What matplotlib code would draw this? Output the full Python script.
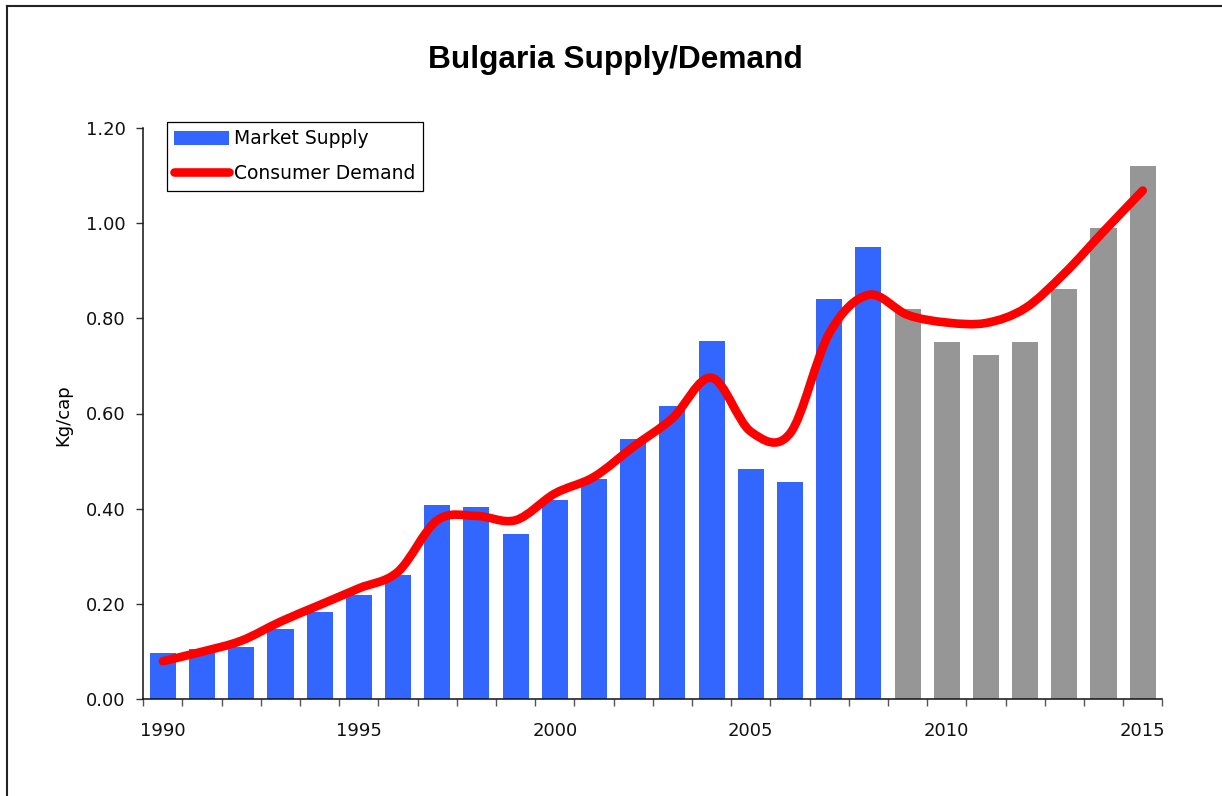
import matplotlib

matplotlib.use("Agg")
import matplotlib.pyplot as plt
import numpy as np
from matplotlib.lines import Line2D
from matplotlib.patches import Patch, PathPatch
from matplotlib.path import Path


YEARS = list(range(1990, 2016))
SUPPLY = [0.097, 0.105, 0.110, 0.148, 0.183, 0.219, 0.260, 0.408, 0.404, 0.347,
          0.418, 0.462, 0.546, 0.615, 0.752, 0.483, 0.456, 0.840, 0.950, 0.819,
          0.750, 0.723, 0.750, 0.861, 0.990, 1.120]
DEMAND = [0.080, 0.100, 0.123, 0.163, 0.198, 0.233, 0.268, 0.376, 0.385, 0.376,
          0.432, 0.467, 0.530, 0.590, 0.675, 0.562, 0.558, 0.768, 0.849, 0.807,
          0.791, 0.790, 0.821, 0.894, 0.982, 1.068]
FORECAST_FROM = 2009
Y_TICKS = [0.0, 0.2, 0.4, 0.6, 0.8, 1.0, 1.2]
LABEL_YEARS = [1990, 1995, 2000, 2005, 2010, 2015]

BLUE = "#3366ff"
GREY = "#969696"
RED = "#ff0000"
FONT = "DejaVu Sans"

W, H = 1222, 796


def smooth_path(xs, ys):
    # Excel-style smoothed line: cubic Bezier with control points at +-(P[i+1]-P[i-1])/6
    pts = np.column_stack([xs, ys]).astype(float)
    padded = np.vstack([pts[0], pts, pts[-1]])
    verts = [pts[0]]
    codes = [Path.MOVETO]
    for i in range(len(pts) - 1):
        p0, p1, p2, p3 = padded[i], padded[i + 1], padded[i + 2], padded[i + 3]
        verts += [p1 + (p2 - p0) / 6, p2 - (p3 - p1) / 6, p2]
        codes += [Path.CURVE4] * 3
    return Path(verts, codes)


fig = plt.figure(figsize=(W / 100, H / 100), dpi=100)
ax = fig.add_axes([143.3 / W, 1 - 699.3 / H, 1019 / W, 571.6 / H])

x = np.arange(len(YEARS))
colors = [BLUE if y < FORECAST_FROM else GREY for y in YEARS]
ax.bar(x, SUPPLY, width=0.665, color=colors, linewidth=0, zorder=2)

line = PathPatch(smooth_path(x, DEMAND), fill=False, edgecolor=RED, linewidth=6.2,
                 capstyle="round", joinstyle="round", zorder=3)
ax.add_patch(line)

ax.set_xlim(-0.5, len(YEARS) - 0.5)
ax.set_ylim(0, 1.2)

ax.set_yticks(Y_TICKS)
ax.set_yticklabels([f"{v:.2f}" for v in Y_TICKS], fontsize=13, family=FONT, color="#111111")
ax.tick_params(axis="y", direction="out", length=4.7, width=1, pad=8, color="#333333")

ax.set_xticks([YEARS.index(y) for y in LABEL_YEARS])
ax.set_xticklabels([str(y) for y in LABEL_YEARS], fontsize=13, family=FONT, color="#111111")
ax.tick_params(axis="x", which="major", length=0, pad=16)
ax.set_xticks(np.arange(len(YEARS) + 1) - 0.5, minor=True)
ax.tick_params(axis="x", which="minor", direction="out", length=5, width=1, color="#555555")

for side in ("top", "right"):
    ax.spines[side].set_visible(False)
for side in ("left", "bottom"):
    ax.spines[side].set_color("#111111")
    ax.spines[side].set_linewidth(1.1)

handles = [
    Patch(facecolor=BLUE, edgecolor="none"),
    Line2D([0], [0], color=RED, linewidth=6.2, solid_capstyle="round"),
]
leg = ax.legend(handles, ["Market Supply", "Consumer Demand"],
                loc="upper left", bbox_to_anchor=(166.7 / W, 1 - 121.7 / H),
                bbox_transform=fig.transFigure, borderaxespad=0,
                prop={"family": FONT, "size": 13.5}, fancybox=False, framealpha=1,
                edgecolor="black", borderpad=0.4, handlelength=2.93,
                handleheight=0.75, handletextpad=0.27, labelspacing=0.85)
leg.get_frame().set_linewidth(0.9)

fig.text(615 / W, 1 - 60 / H, "Bulgaria Supply/Demand", ha="center", va="center",
         fontsize=22.8, fontweight="bold", family="Liberation Sans")
fig.text(63 / W, 1 - 415 / H, "Kg/cap", rotation=90, ha="center", va="center",
         fontsize=13, family=FONT)

# outer chart border: only the left and top edges fall inside the picture
fig.add_artist(Line2D([7 / W, 7 / W], [0, 1 - 6 / H], transform=fig.transFigure,
                      color="#222222", linewidth=1.5))
fig.add_artist(Line2D([7 / W, 1], [1 - 6 / H, 1 - 6 / H], transform=fig.transFigure,
                      color="#222222", linewidth=1.5))

fig.savefig("out.png", dpi=100)
